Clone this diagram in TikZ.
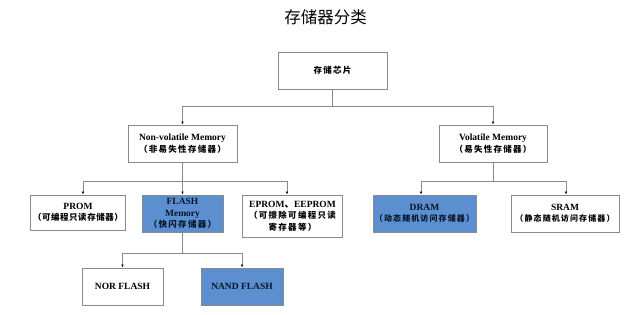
\documentclass[tikz,border=0pt]{standalone}
\usepackage{fontspec}
\setmainfont{Liberation Serif}
\newfontfamily\cjk{Noto Sans CJK SC}
\newfontfamily\cjkA[LetterSpace=15]{Noto Sans CJK SC}
\newfontfamily\cjkB[LetterSpace=14]{Noto Sans CJK SC}
\newfontfamily\cjkC[LetterSpace=6]{Noto Sans CJK SC}
\usetikzlibrary{arrows.meta}
\definecolor{boxblue}{HTML}{5B8FD0}
\definecolor{navy}{HTML}{061528}
\definecolor{linegray}{HTML}{8A8A8A}
\newcommand{\zh}[1]{{\cjkA\bfseries\fontsize{8.5}{11}\selectfont #1}}
\newcommand{\zhs}[1]{{\cjkB\bfseries\fontsize{8}{10}\selectfont #1}}
\newcommand{\zhp}[1]{{\cjkC\bfseries\fontsize{8.5}{10}\selectfont #1}}
\tikzset{
  x=1pt, y=-1pt,
  box/.style={draw=linegray, line width=0.9pt, fill=white, inner sep=0pt, align=center,
    font=\bfseries\fontsize{9.5}{11.5}\selectfont},
  bluebox/.style={box, fill=boxblue, text=navy},
  conn/.style={draw=linegray, line width=0.7pt},
  arr/.style={conn, -{Latex[length=3pt,width=2.5pt,color=black]}},
}
\begin{document}
\begin{tikzpicture}
\useasboundingbox (0,0) rectangle (640,314);
\fill[white] (0,0) rectangle (640,314);
\node[font=\cjk\fontsize{16.5}{18}\selectfont] (title) at (325.5,17) {存储器分类};

\node[box, minimum width=109pt, minimum height=37pt] (chip) at (332.5,70.5) {\zh{存储芯片}};

\node[box, minimum width=109pt, minimum height=37pt] (nv) at (182.5,143.5) {Non-volatile Memory\\\zh{（非易失性存储器）}};
\node[box, minimum width=108pt, minimum height=37pt] (vol) at (493,143.5) {Volatile Memory\\\zh{（易失性存储器）}};

\node[box, minimum width=95pt, minimum height=35pt] (prom) at (78,212.5) {PROM\\\zhp{（可编程只读存储器）}};
\node[bluebox, minimum width=81pt, minimum height=37pt] (flash) at (182.5,213.5) {\bfseries FLASH\\\bfseries Memory\\\zh{（快闪存储器）}};
\node[box, minimum width=100pt, minimum height=42pt] (eprom) at (292.5,216) {EPROM{\cjk 、}EEPROM\\\zh{（可擦除可编程只读}\\\zh{寄存器等）}};
\node[bluebox, minimum width=103pt, minimum height=37pt] (dram) at (424.5,213.5) {\bfseries DRAM\\\zhs{（动态随机访问存储器）}};
\node[box, minimum width=108pt, minimum height=37pt] (sram) at (565,213.5) {SRAM\\\zhs{（静态随机访问存储器）}};

\node[box, minimum width=81pt, minimum height=37pt] (nor) at (122.5,286.5) {NOR FLASH};
\node[bluebox, minimum width=82pt, minimum height=37pt] (nand) at (242,286.5) {\bfseries NAND FLASH};

\coordinate (j1) at (332.5,106);
\coordinate (j2) at (182.5,181);
\coordinate (j3) at (493,181);
\coordinate (j4) at (182.5,253);

\draw[conn] (chip.south) -- (j1);
\draw[arr] (j1) -| (nv.north);
\draw[arr] (j1) -| (vol.north);

\draw[conn] (nv.south) -- (j2);
\draw[arr] (j2) -| (prom.north -| 83,0);
\draw[arr] (j2) -- (flash.north);
\draw[arr] (j2) -| (eprom.north -| 287,0);

\draw[conn] (vol.south) -- (j3);
\draw[arr] (j3) -| (dram.north -| 421,0);
\draw[arr] (j3) -| (sram.north -| 566,0);

\draw[conn] (flash.south) -- (j4);
\draw[arr] (j4) -| (nor.north);
\draw[arr] (j4) -| (nand.north);
\end{tikzpicture}
\end{document}
